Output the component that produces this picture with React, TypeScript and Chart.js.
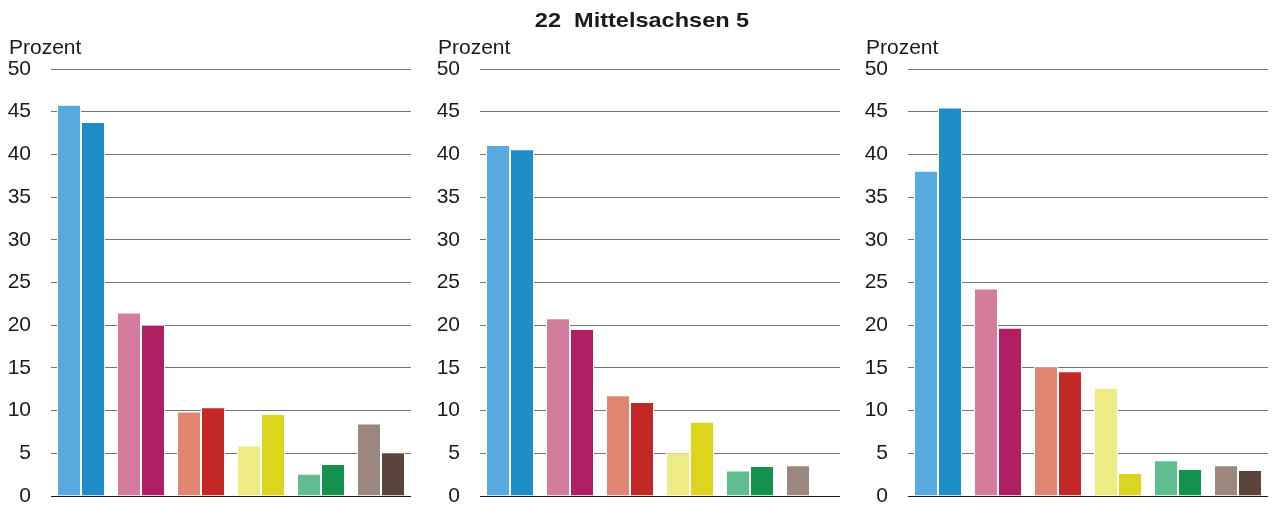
import React, { useEffect, useRef } from "react";
import { Chart, registerables } from "chart.js";

Chart.register(...registerables);

const categories = ["1", "2", "3", "4", "5", "6"];
const lightColors = ["#56aadf", "#d47c9c", "#df8570", "#eeea84", "#60bd8f", "#9b877d"];
const darkColors = ["#1e8cc6", "#b01f63", "#c42826", "#dcd51e", "#12924a", "#5b443a"];
const yTicks = [0, 5, 10, 15, 20, 25, 30, 35, 40, 45, 50];

const panel1Light = [45.8, 21.5, 9.9, 5.9, 2.6, 8.5];
const panel1Dark = [43.8, 20.05, 10.4, 9.6, 3.75, 5.1];
const panel2Light = [41.1, 20.8, 11.8, 5.1, 3.0, 3.6];
const panel2Dark = [40.6, 19.55, 11.0, 8.7, 3.5, null];
const panel3Light = [38.1, 24.3, 15.15, 12.65, 4.2, 3.6];
const panel3Dark = [45.5, 19.7, 14.6, 2.7, 3.15, 3.05];

const title = "22  Mittelsachsen 5";
const yLabel = "Prozent";
const FONT = "'Liberation Sans', Arial, sans-serif";

const CANVAS_W = 420;
const CANVAS_H = 536;
const PAD_BOTTOM = 40;

type PanelProps = {
  left: number;
  light: (number | null)[];
  dark: (number | null)[];
  showTitle: boolean;
};

function Panel({ left, light, dark, showTitle }: PanelProps) {
  const ref = useRef<HTMLCanvasElement>(null);
  useEffect(() => {
    if (!ref.current) return;
    const textPlugin = {
      id: "texts",
      afterDraw(chart: any) {
        const ctx = chart.ctx;
        ctx.save();
        ctx.fillStyle = "#1a1a1a";
        ctx.textBaseline = "alphabetic";
        ctx.textAlign = "left";
        ctx.font = `21px ${FONT}`;
        ctx.fillText(yLabel, 9, 54);
        if (showTitle) {
          ctx.font = `bold 21px ${FONT}`;
          ctx.textAlign = "center";
          const sx = 1.12;
          ctx.translate(642 - left, 27);
          ctx.scale(sx, 1);
          ctx.fillText(title, 0, 0);
        }
        ctx.restore();
      },
    };
    const chart = new Chart(ref.current, {
      type: "bar",
      data: {
        labels: categories,
        datasets: [
          {
            data: light,
            backgroundColor: lightColors,
            borderColor: "#ffffff",
            borderWidth: 1,
            categoryPercentage: 0.8,
            barPercentage: 1.0,
          },
          {
            data: dark,
            backgroundColor: darkColors,
            borderColor: "#ffffff",
            borderWidth: 1,
            categoryPercentage: 0.8,
            barPercentage: 1.0,
          },
        ],
      },
      options: {
        animation: false,
        responsive: false,
        devicePixelRatio: 1,
        layout: { padding: { left: 0, right: 9, top: 69, bottom: PAD_BOTTOM } },
        plugins: { legend: { display: false }, tooltip: { enabled: false }, title: { display: false } },
        scales: {
          x: { display: false },
          y: {
            min: 0,
            max: 50,
            afterFit: (scale: any) => {
              scale.width = 51;
            },
            afterBuildTicks: (scale: any) => {
              scale.ticks = yTicks.map((v) => ({ value: v }));
            },
            border: { display: false },
            grid: {
              drawTicks: false,
              color: (c: any) => (c.tick && c.tick.value === 0 ? "#1a1a1a" : "#727272"),
              lineWidth: 1,
            },
            ticks: {
              padding: 20,
              color: "#1a1a1a",
              font: { family: FONT, size: 21 },
            },
          },
        },
      },
      plugins: [textPlugin],
    });
    return () => chart.destroy();
  }, [left, light, dark, showTitle]);
  return (
    <canvas
      ref={ref}
      width={CANVAS_W}
      height={CANVAS_H}
      style={{ position: "absolute", left, top: 0, width: CANVAS_W, height: CANVAS_H }}
    />
  );
}

export default function App() {
  return (
    <div
      style={{
        position: "absolute",
        left: 0,
        top: 0,
        width: 1278,
        height: 506,
        overflow: "hidden",
        background: "#fff",
      }}
    >
      <Panel left={0} light={panel1Light} dark={panel1Dark} showTitle={false} />
      <Panel left={429} light={panel2Light} dark={panel2Dark} showTitle={true} />
      <Panel left={857} light={panel3Light} dark={panel3Dark} showTitle={false} />
    </div>
  );
}
